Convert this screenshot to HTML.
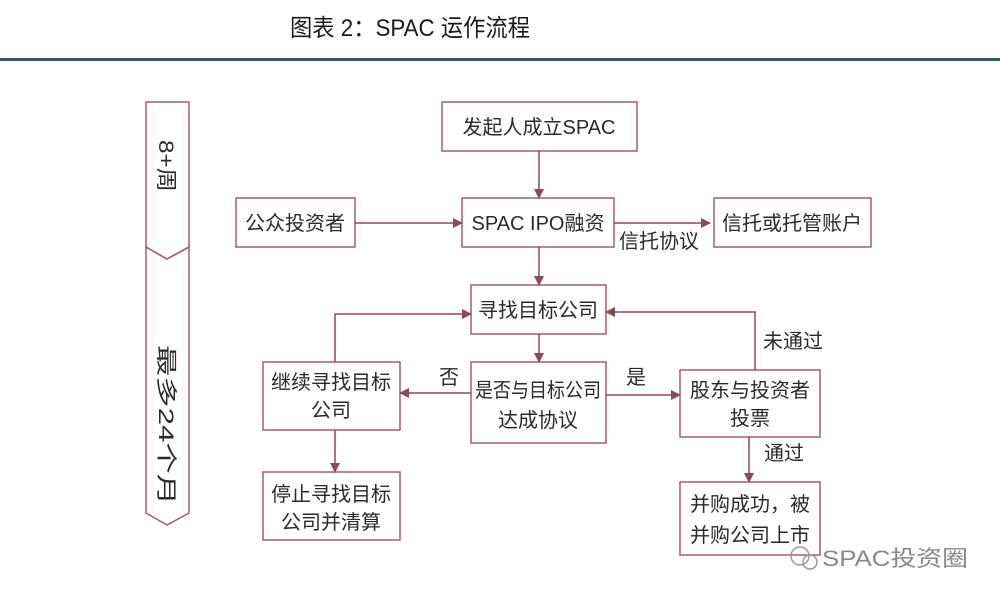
<!DOCTYPE html>
<html><head><meta charset="utf-8"><style>
html,body{margin:0;padding:0;background:#fff;}
svg{display:block;}
text{font-family:"Liberation Sans","Noto Sans CJK SC",sans-serif;fill:#2a2a2a;}
</style></head><body>
<svg width="1000" height="602" viewBox="0 0 1000 602" xmlns="http://www.w3.org/2000/svg">
<defs><marker id="a" markerWidth="10" markerHeight="10" refX="9" refY="5" orient="auto" markerUnits="userSpaceOnUse"><path d="M0,0 L10,5 L0,10 z" fill="#8b4a55"/></marker></defs>
<text x="290" y="36" font-size="24" textLength="240" lengthAdjust="spacingAndGlyphs" style="fill:#1a1a1a">图表 2：SPAC 运作流程</text>
<rect x="0" y="58" width="1000" height="3" fill="#2f5a66"/>
<g fill="none" stroke="#a0606a" stroke-width="1.5">
<path d="M146,102 H189 V247 L167,259 L146,247 Z"/>
<path d="M146,247 L167,259 L189,247 V513 L167,525 L146,513 Z"/>
<rect x="442" y="102" width="195" height="49"/>
<rect x="236" y="198" width="119" height="49"/>
<rect x="462" y="198" width="152" height="49"/>
<rect x="714" y="198" width="157" height="49"/>
<rect x="471" y="285" width="135" height="49"/>
<rect x="263" y="362" width="137" height="68"/>
<rect x="471" y="362" width="135" height="81"/>
<rect x="680" y="370" width="140" height="67"/>
<rect x="263" y="472" width="137" height="68"/>
<rect x="680" y="482" width="140" height="73"/>
</g>
<g fill="none" stroke="#8b4a55" stroke-width="1.5" marker-end="url(#a)">
<path d="M539,151 V198"/>
<path d="M355,223 H462"/>
<path d="M614,223 H710"/>
<path d="M539,247 V285"/>
<path d="M539,334 V362"/>
<path d="M335,362 V314 H471"/>
<path d="M755,370 V312 H606"/>
<path d="M471,393 H400"/>
<path d="M606,395 H680"/>
<path d="M335,430 V472"/>
<path d="M749,437 V482"/>
</g>
<g font-size="20" text-anchor="middle">
<text x="539" y="134">发起人成立SPAC</text>
<text x="295" y="230">公众投资者</text>
<text x="538" y="230">SPAC IPO融资</text>
<text x="792" y="230">信托或托管账户</text>
<text x="659" y="248">信托协议</text>
<text x="538" y="317">寻找目标公司</text>
<text x="331" y="389">继续寻找目标</text>
<text x="331" y="417">公司</text>
<text x="538" y="397" textLength="126" lengthAdjust="spacingAndGlyphs">是否与目标公司</text>
<text x="538" y="427">达成协议</text>
<text x="750" y="397">股东与投资者</text>
<text x="750" y="425">投票</text>
<text x="331" y="501">停止寻找目标</text>
<text x="331" y="529">公司并清算</text>
<text x="750" y="511">并购成功，被</text>
<text x="750" y="542">并购公司上市</text>
<text x="449" y="384">否</text>
<text x="636" y="384">是</text>
<text x="793" y="348">未通过</text>
<text x="784" y="460">通过</text>
</g>
<g font-size="21">
<text transform="translate(159,140) rotate(90)" textLength="52" lengthAdjust="spacingAndGlyphs">8+周</text>
<text transform="translate(159,345) rotate(90)" textLength="160" lengthAdjust="spacingAndGlyphs">最多24个月</text>
</g>
<g fill="none" stroke="#999" stroke-width="1.5"><circle cx="800" cy="556" r="9"/><circle cx="810" cy="562" r="7"/></g>
<text x="822" y="566" font-size="22" textLength="146" lengthAdjust="spacingAndGlyphs" style="fill:#888">SPAC投资圈</text>
</svg>
</body></html>
